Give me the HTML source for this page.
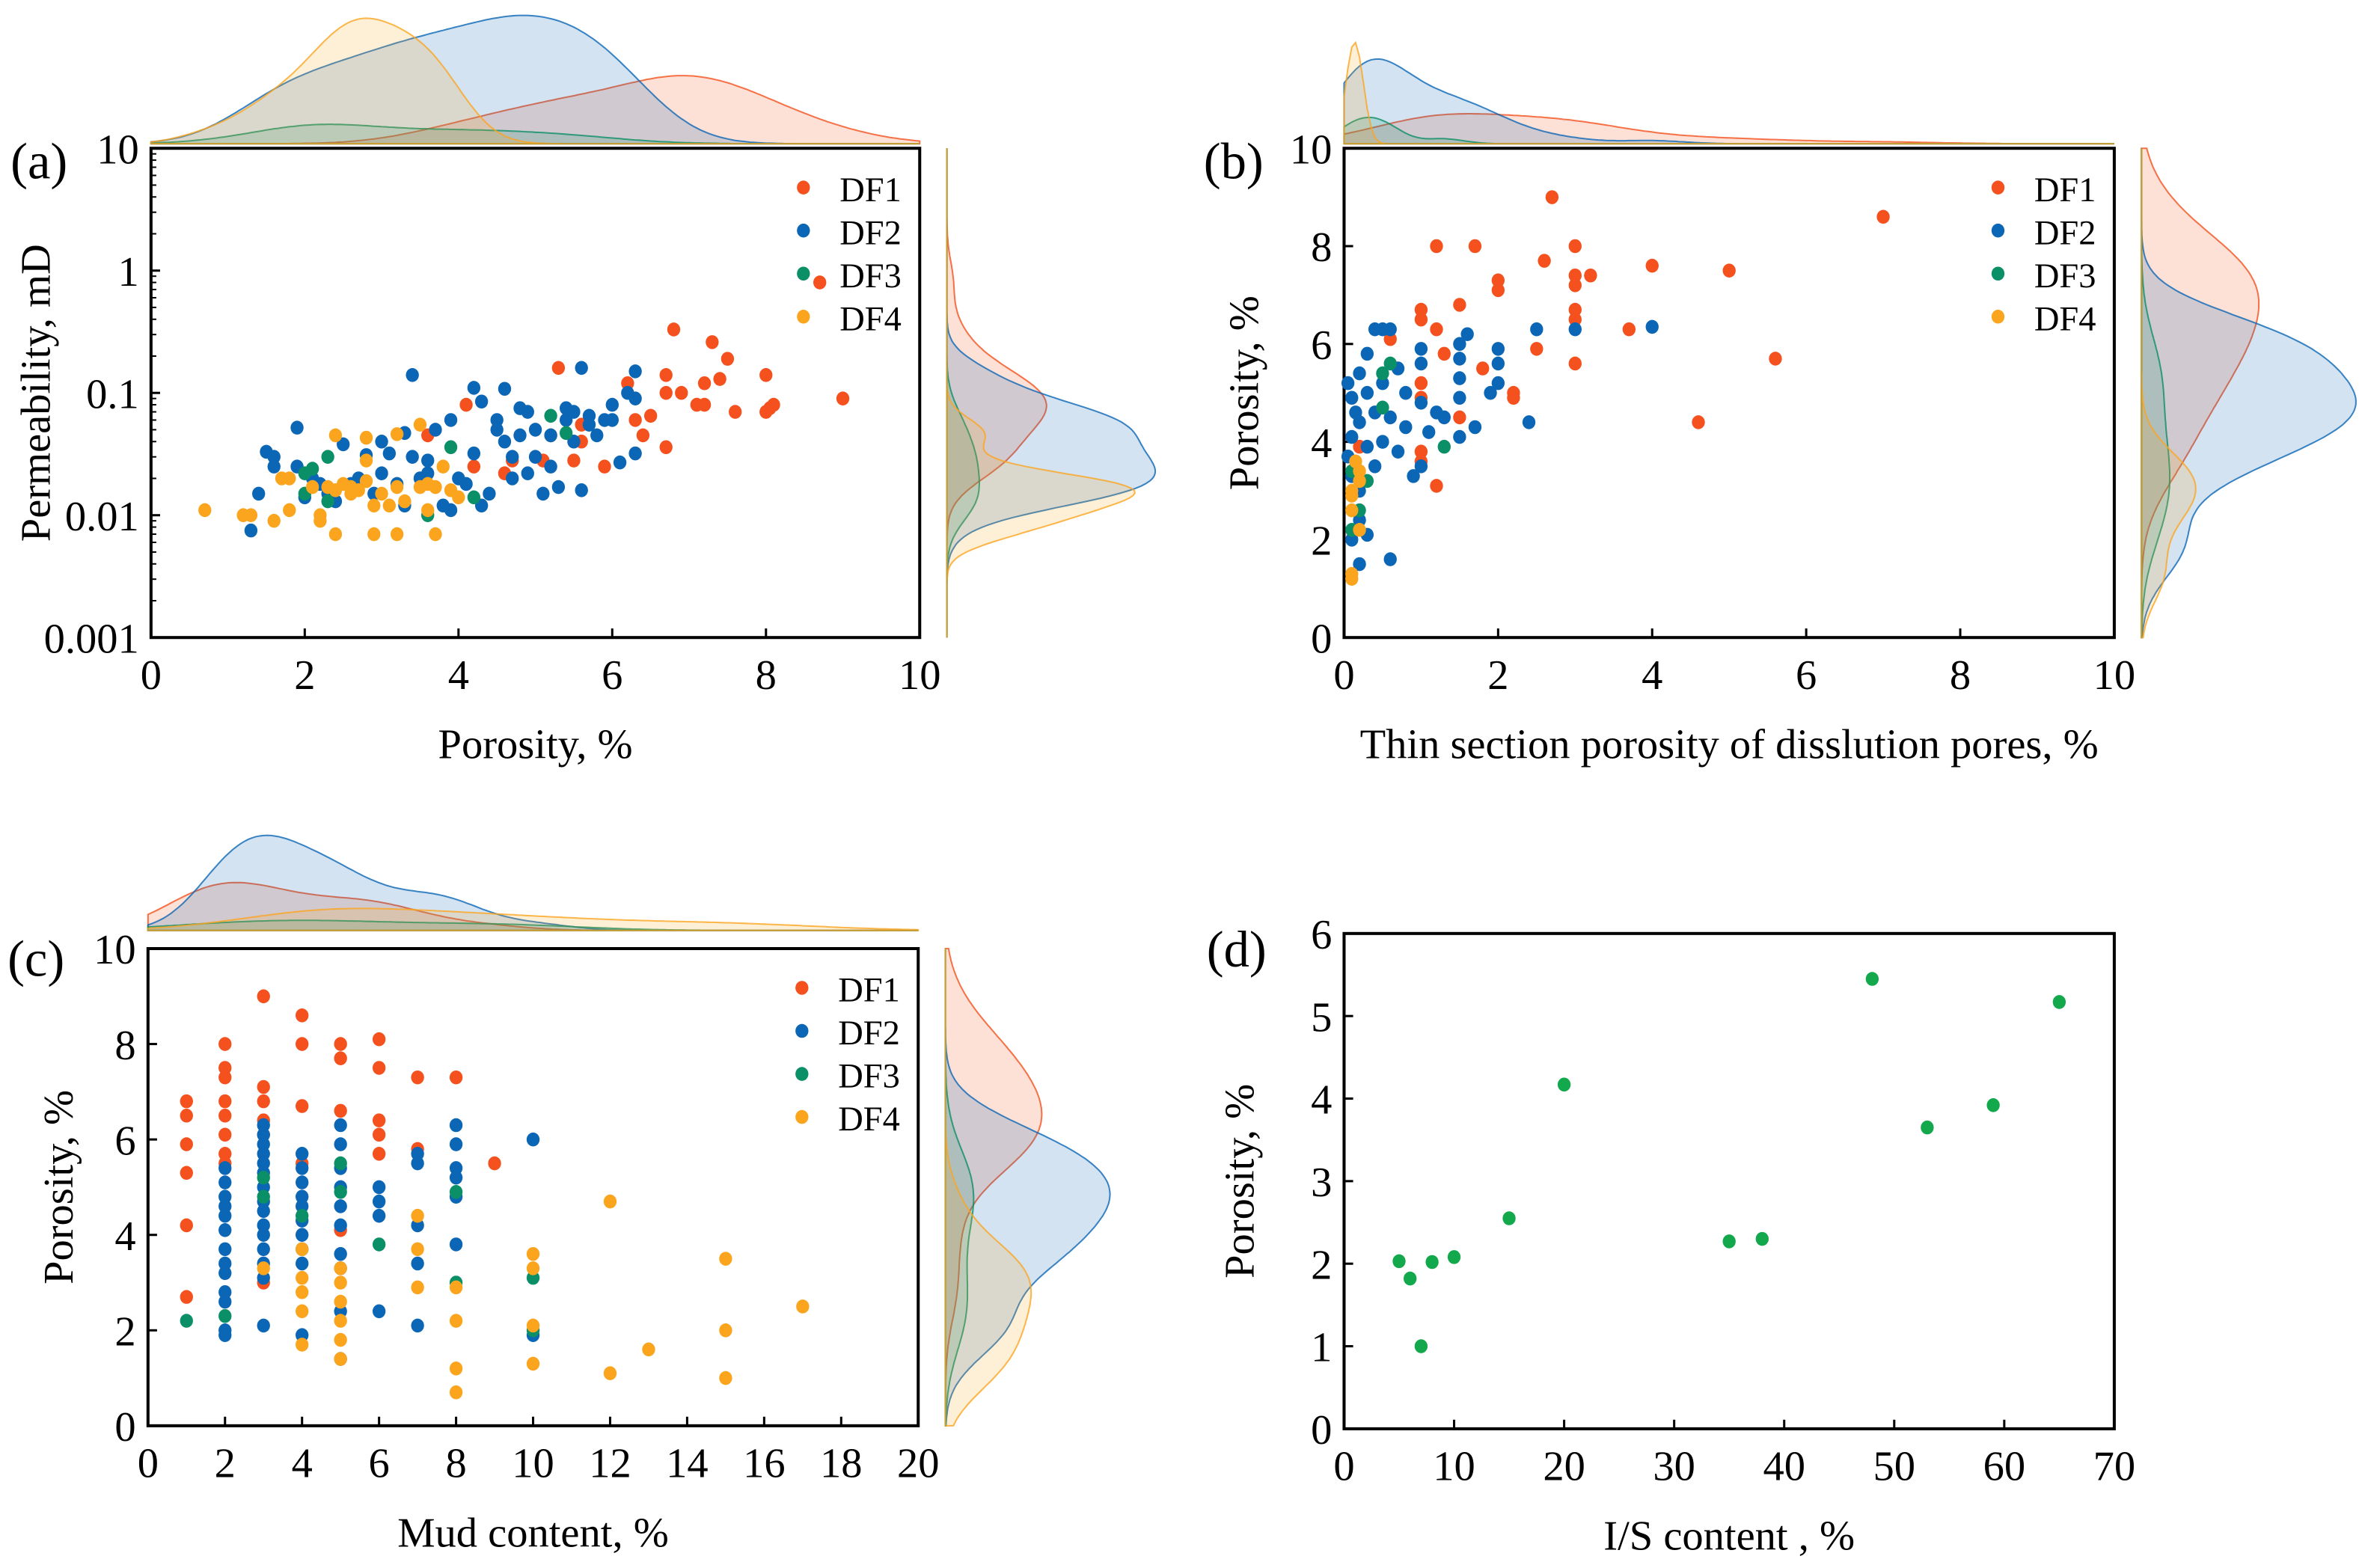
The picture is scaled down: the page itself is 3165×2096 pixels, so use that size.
<!DOCTYPE html>
<html><head><meta charset="utf-8"><style>
html,body{margin:0;padding:0;background:#fff;}
svg{display:block;}
svg text{font-family:"Liberation Serif","Times New Roman",Times,"DejaVu Serif",serif !important;}
</style></head><body>
<svg id="fig" width="3165" height="2096" viewBox="0 0 1568 1038" xmlns="http://www.w3.org/2000/svg"></svg>
<script>
// ---------- DATA ----------
const seriesNames = ["DF1","DF2","DF3","DF4"];
const colors = ["#f4511e","#0b66b5","#0b8f66","#fba51f"];

// Panel (a): porosity vs permeability
const aDF1x = [8.7,6.8,7.3,7.5,7.4,7.2,6.7,6.7,6.9,7.1,7.2,7.6,8,8,8.1,8.05,9,5.3,6.2,6.3,6.5,6.4,6.7,5.6,5.5,5.9,4.1,3.6,4.6,4.7,5.1,5.6,5.2,4.2];
const aDF1y = [0.8,0.33,0.26,0.19,0.13,0.12,0.14,0.1,0.1,0.08,0.08,0.07,0.14,0.07,0.08,0.075,0.09,0.16,0.12,0.06,0.065,0.045,0.036,0.04,0.028,0.025,0.08,0.045,0.022,0.028,0.028,0.055,0.045,0.025];
const aDF2x = [1.3,1.4,1.5,1.6,1.6,1.9,1.9,2,2.1,2.3,2.5,2.6,2.7,2.8,2.9,3,3,3.1,3.2,3.3,3.3,3.4,3.5,3.6,3.7,3.8,3.9,3.9,4,4.1,4.2,4.2,4.3,4.4,4.5,4.5,4.6,4.7,4.7,4.8,4.8,4.9,4.9,5,5,5.1,5.2,5.2,5.3,5.4,5.4,5.5,5.5,5.6,5.7,5.7,5.8,5.9,6,6,6.1,6.2,6.3,6.3,6.3,3.4,4.6,5.6,2.2,2.4,3.6,4.3];
const aDF2y = [0.0075,0.015,0.033,0.025,0.03,0.052,0.025,0.014,0.02,0.015,0.038,0.018,0.02,0.031,0.015,0.022,0.04,0.032,0.018,0.012,0.047,0.03,0.02,0.022,0.05,0.012,0.06,0.011,0.02,0.018,0.11,0.032,0.085,0.015,0.06,0.05,0.04,0.02,0.03,0.075,0.045,0.022,0.07,0.05,0.03,0.015,0.045,0.025,0.017,0.075,0.06,0.04,0.07,0.016,0.065,0.055,0.045,0.06,0.08,0.06,0.027,0.1,0.15,0.09,0.032,0.14,0.108,0.16,0.018,0.013,0.028,0.012];
const aDF3x = [2,2.1,2.3,2,2.3,3.9,4.2,3.6,5.2,5.4];
const aDF3y = [0.022,0.024,0.03,0.015,0.013,0.036,0.014,0.01,0.065,0.047];
const aDF4x = [0.7,1.2,1.3,1.6,1.7,1.8,1.8,2.2,2.2,2.4,2.9,3.2,3.7,2.4,2.8,3.2,3.5,2.1,2.3,2.5,2.6,2.7,2.8,2.9,3,3.1,3.2,3.3,3.5,3.6,3.7,3.6,3.9,4,3.8,2.8,2.6,2.4];
const aDF4y = [0.011,0.01,0.01,0.009,0.02,0.02,0.011,0.009,0.01,0.007,0.007,0.007,0.007,0.045,0.043,0.046,0.055,0.017,0.017,0.018,0.017,0.016,0.019,0.012,0.015,0.012,0.017,0.013,0.017,0.018,0.017,0.011,0.016,0.014,0.025,0.028,0.015,0.016];

// Panel (b): thin section porosity vs porosity
const bDF1x = [2.7,7,1.2,1.7,3,2,2,3,3,3.2,2.6,4,5,1,1,1.5,1.2,3,3,3.7,2.5,3,5.6,1.8,2.2,2.2,1,1,1.5,4.6,1,1,1.2,0.6,1.3,0.2];
const bDF1y = [9,8.6,8,8,8,7.3,7.1,7.4,7.2,7.4,7.7,7.6,7.5,6.7,6.5,6.8,6.3,6.7,6.5,6.3,5.9,5.6,5.7,5.5,5,4.9,5.2,4.9,4.5,4.4,3.8,3.6,3.1,6.1,5.8,3.9];
const bDF2x = [0.05,0.1,0.15,0.2,0.3,0.4,0.5,0.6,0.3,0.2,0.1,0.05,0.1,0.2,0.3,0.2,0.6,0.4,0.5,0.6,0.7,0.8,0.9,1,1,1,1,1.1,1.2,1.3,1.5,1.5,1.5,1.5,1.5,1.6,1.7,1.9,2,2,2,2.4,2.5,3,4,0.3,0.5,0.7,0.8,0.2,0.1,0.4];
const bDF2y = [5.2,4.9,4.6,5.4,5.8,6.3,6.3,6.3,5,4.4,4.1,3.7,3.3,3,2.1,1.5,1.6,3.5,4,4.5,3.8,4.3,3.3,3.5,4.8,5.6,5.9,4.2,4.6,4.5,4.9,5.3,5.7,6,4.1,6.2,4.3,5,5.2,5.6,5.9,4.4,6.3,6.3,6.35,3.9,5.2,5.5,5,2.4,2,4.6];
const bDF3x = [0.1,0.2,0.3,0.5,0.6,0.5,1.3,0.1];
const bDF3y = [2.2,2.6,3.2,5.4,5.6,4.7,3.9,3.4];
const bDF4x = [0.1,0.1,0.2,0.1,0.1,0.15,0.2,0.1,0.2];
const bDF4y = [1.2,1.3,2.2,2.9,3,3.6,3.4,2.6,3.2];

// Panel (c): mud content vs porosity
const cDF1x = [1,1,1,1,1,1,2,2,2,2,2,2,2,2,3,3,3,3,3,3,4,4,4,4,5,5,5,5,6,6,6,6,6,7,7,8,9];
const cDF1y = [6.8,6.5,5.9,5.3,4.2,2.7,8,7.5,7.3,6.8,6.5,6.1,5.7,5.5,9,7.1,6.8,6.4,6.1,3,8.6,8,6.7,5.5,8,7.7,6.6,4.1,8.1,7.5,6.4,6.1,5.7,7.3,5.8,7.3,5.5];
const cDF2x = [2,2,2,2,2,2,2,2,2,2,2,2,2,3,3,3,3,3,3,3,3,3,3,3,3,3,3,3,4,4,4,4,4,4,4,4,4,4,5,5,5,5,5,5,5,5,5,5,6,6,6,6,7,7,7,7,7,8,8,8,8,8,8,10,10];
const cDF2y = [5.4,5.1,4.8,4.6,4.4,4.1,3.7,3.4,3.2,2.8,2.6,2,1.9,6.3,6.1,5.9,5.7,5.5,5.3,5,4.7,4.5,4.2,4,3.7,3.4,3.1,2.1,5.7,5.4,5.1,4.8,4.6,4.3,4,3.7,3.4,1.9,6.3,5.9,5.4,5,4.6,4.2,3.6,3.3,2.4,1.4,5,4.7,4.4,2.4,5.7,5.5,4.2,3.4,2.1,6.3,5.9,5.4,5.2,4.8,3.8,6,1.9];
const cDF3x = [1,2,3,3,4,5,5,6,8,8,10,10];
const cDF3y = [2.2,2.3,5.2,4.8,4.4,5.5,4.9,3.8,4.9,3,3.1,2];
const cDF4x = [3,4,4,4,4,4,5,5,5,5,5,5,7,7,7,8,8,8,8,10,10,10,10,12,12,13,15,15,15,17];
const cDF4y = [3.3,3.7,3.1,2.8,2.4,1.7,3.3,3,2.6,2.2,1.8,1.4,4.4,3.7,2.9,2.9,2.2,1.2,0.7,3.6,3.3,2.1,1.3,4.7,1.1,1.6,3.5,2,1,2.5];

// Panel (d): I/S content vs porosity
const dX = [5,6,7,8,10,15,20,35,38,48,53,59,65];
const dY = [2.03,1.82,1,2.02,2.08,2.55,4.17,2.27,2.3,5.45,3.65,3.92,5.17];

// tick labels
const aXTicks = [0,2,4,6,8,10];
const aYTicks = [10,1,0.1,0.01,0.001];
const aYTickLabels = ["10","1","0.1","0.01","0.001"];
const bXTicks = [0,2,4,6,8,10];
const bYTicks = [0,2,4,6,8,10];
const cXTicks = [0,2,4,6,8,10,12,14,16,18,20];
const cYTicks = [0,2,4,6,8,10];
const dXTicks = [0,10,20,30,40,50,60,70];
const dYTicks = [0,1,2,3,4,5,6];

// ---------- DRAWING ----------
const NS = "http://www.w3.org/2000/svg";
const svg = document.getElementById("fig");
const FONT = "Liberation Serif, Times New Roman, Times, serif";
function mk(tag, attrs, parent) {
  const e = document.createElementNS(NS, tag);
  for (const k in attrs) e.setAttribute(k, attrs[k]);
  (parent || svg).appendChild(e);
  return e;
}
function txt(s, x, y, size, anchor, parent, rot) {
  const t = mk("text", {x:x, y:y, "font-size":size, "text-anchor":anchor||"middle", fill:"#000", "font-family":FONT}, parent);
  t.style.fontFamily = '"Liberation Serif", "Times New Roman", serif';
  if (rot) t.setAttribute("transform", "rotate(-90 " + x + " " + y + ")");
  t.textContent = s;
  return t;
}
function lin(d0, d1, r0, r1) { return v => r0 + (v - d0) / (d1 - d0) * (r1 - r0); }
function logs(d0, d1, r0, r1) { return v => r0 + (Math.log10(v) - Math.log10(d0)) / (Math.log10(d1) - Math.log10(d0)) * (r1 - r0); }

function kde(vals, lo, hi, minH, fac) {
  const n = vals.length;
  const m = vals.reduce((a,b)=>a+b,0)/n;
  const sd = Math.sqrt(vals.reduce((a,b)=>a+(b-m)*(b-m),0)/n) || 0.1;
  const h = Math.max(1.06*sd*Math.pow(n,-0.2)*fac, minH);
  const out = [];
  for (let i=0;i<=200;i++) {
    const x = lo + (hi-lo)*i/200;
    let s = 0;
    for (const v of vals) s += Math.exp(-0.5*((x-v)/h)*((x-v)/h));
    out.push([x, s/(h*Math.sqrt(2*Math.PI))]);
  }
  return out;
}

function panel(cfg) {
  const g = mk("g", {});
  
  
  const {L,T,R,B} = cfg.box;
  const sx = cfg.sx, sy = cfg.sy;

  if (cfg.top) {
    const curves = cfg.sets.map(s => kde(s.x, cfg.xr[0], cfg.xr[1], cfg.minHx, cfg.bw));
    const mx = Math.max(...curves.map(c => Math.max(...c.map(p=>p[1]))));
    curves.forEach((c, i) => {
      const pts = c.map(p => sx(p[0]).toFixed(1) + "," + (cfg.top.base - p[1]/mx*cfg.top.h).toFixed(1));
      const d = "M" + sx(cfg.xr[0]) + "," + cfg.top.base + " L" + pts.join(" L") + " L" + sx(cfg.xr[1]) + "," + cfg.top.base + "Z";
      const p = mk("path", {d:d, fill:colors[cfg.sets[i].c], "fill-opacity":0.18, stroke:colors[cfg.sets[i].c], "stroke-width":1, "stroke-opacity":0.8}, g);
      
      
    });
  }
  if (cfg.right) {
    const curves = cfg.sets.map(s => kde(s.y.map(cfg.ytr), cfg.yr[0], cfg.yr[1], cfg.minHy, cfg.bw));
    const mx = Math.max(...curves.map(c => Math.max(...c.map(p=>p[1]))));
    const syl = lin(cfg.yr[0], cfg.yr[1], B, T);
    curves.forEach((c, i) => {
      const pts = c.map(p => (cfg.right.base + p[1]/mx*cfg.right.w).toFixed(1) + "," + syl(p[0]).toFixed(1));
      const d = "M" + cfg.right.base + "," + B + " L" + pts.join(" L") + " L" + cfg.right.base + "," + T + "Z";
      const p = mk("path", {d:d, fill:colors[cfg.sets[i].c], "fill-opacity":0.18, stroke:colors[cfg.sets[i].c], "stroke-width":1, "stroke-opacity":0.8}, g);
      
      
    });
  }

  const fr = mk("rect", {x:L, y:T, width:R-L, height:B-T, fill:"none", stroke:"#000", "stroke-width":2}, g);
  
  

  cfg.xticks.forEach(v => {
    const x = sx(v);
    mk("line", {x1:x, x2:x, y1:B, y2:B-6, stroke:"#000", "stroke-width":1.5}, g);
    const t = txt(String(v), x, B+34, 28, "middle", g);
    
    
  });
  cfg.yticks.forEach((v, i) => {
    const y = sy(v);
    mk("line", {x1:L, x2:L+6, y1:y, y2:y, stroke:"#000", "stroke-width":1.5}, g);
    const t = txt(cfg.ylabels ? cfg.ylabels[i] : String(v), L-8, y+10, 28, "end", g);
    
    
  });
  if (cfg.minorLog) {
    for (let e=-3;e<1;e++) for (let k=2;k<10;k++) {
      const y = sy(k*Math.pow(10,e));
      mk("line", {x1:L, x2:L+3.5, y1:y, y2:y, stroke:"#000", "stroke-width":1}, g);
    }
  }

  cfg.sets.forEach(s => {
    const sg = mk("g", {fill: s.col || colors[s.c]}, g);
    
    
    s.x.forEach((v, i) => {
      const c = mk("ellipse", {cx:sx(v), cy:sy(s.y[i]), rx:4.3, ry:4.6}, sg);
      
      
    });
  });

  if (cfg.legend) {
    const lg = mk("g", {}, g);
    
    
    seriesNames.forEach((n, i) => {
      const y = T + 28 + i*28.5;
      mk("ellipse", {cx:R-77, cy:y-2, rx:4.3, ry:4.6, fill:colors[i]}, lg);
      const t = txt(n, R-53, y+7, 23, "start", lg);
      
      
    });
  }

  const xt = txt(cfg.xtitle, (L+R)/2, B+80, 28, "middle", g);
  
  
  const yt = txt(cfg.ytitle, cfg.ytx, (T+B)/2, 28, "middle", g, true);
  
  
  const pl = txt(cfg.label, cfg.lab[0], cfg.lab[1], 34, "start", g);
  
  
}

(function(){
  const box = {L:100,T:98,R:609,B:422};
  panel({name:"panel-a", box:box, sx:lin(0,10,box.L,box.R), sy:logs(0.001,10,box.B,box.T),
    xr:[0,10], yr:[-3,1], ytr:v=>Math.log10(v), minHx:0.3, minHy:0.1, bw:1,
    sets:[{c:0,x:aDF1x,y:aDF1y},{c:1,x:aDF2x,y:aDF2y},{c:2,x:aDF3x,y:aDF3y},{c:3,x:aDF4x,y:aDF4y}],
    top:{base:95,h:85}, right:{base:627,w:138},
    xticks:aXTicks, yticks:aYTicks, ylabels:aYTickLabels, minorLog:true, legend:true,
    xtitle:"Porosity, %", ytitle:"Permeability, mD", ytx:33, label:"(a)", lab:[7,118]});
})();
(function(){
  const box = {L:890,T:98,R:1400,B:422};
  panel({name:"panel-b", box:box, sx:lin(0,10,box.L,box.R), sy:lin(0,10,box.B,box.T),
    xr:[0,10], yr:[0,10], ytr:v=>v, minHx:0.1, minHy:0.4, bw:1,
    sets:[{c:0,x:bDF1x,y:bDF1y},{c:1,x:bDF2x,y:bDF2y},{c:2,x:bDF3x,y:bDF3y},{c:3,x:bDF4x,y:bDF4y}],
    top:{base:95,h:67}, right:{base:1418,w:142},
    xticks:bXTicks, yticks:bYTicks, legend:true,
    xtitle:"Thin section porosity of disslution pores, %", ytitle:"Porosity, %", ytx:833, label:"(b)", lab:[797,118]});
})();
(function(){
  const box = {L:98,T:628,R:608,B:944};
  panel({name:"panel-c", box:box, sx:lin(0,20,box.L,box.R), sy:lin(0,10,box.B,box.T),
    xr:[0,20], yr:[0,10], ytr:v=>v, minHx:0.8, minHy:0.6, bw:1,
    sets:[{c:0,x:cDF1x,y:cDF1y},{c:1,x:cDF2x,y:cDF2y},{c:2,x:cDF3x,y:cDF3y},{c:3,x:cDF4x,y:cDF4y}],
    top:{base:616,h:63}, right:{base:626,w:109},
    xticks:cXTicks, yticks:cYTicks, legend:true,
    xtitle:"Mud content, %", ytitle:"Porosity, %", ytx:48, label:"(c)", lab:[5,646]});
})();
(function(){
  const box = {L:890,T:618,R:1400,B:946};
  panel({name:"panel-d", box:box, sx:lin(0,70,box.L,box.R), sy:lin(0,6,box.B,box.T),
    xr:[0,70], yr:[0,6], ytr:v=>v, bw:1,
    sets:[{c:-1,col:"#14a84c",x:dX,y:dY}],
    xticks:dXTicks, yticks:dYTicks, legend:false,
    xtitle:"I/S content , %", ytitle:"Porosity, %", ytx:830, label:"(d)", lab:[799,640]});
})();
</script>
</body></html>
